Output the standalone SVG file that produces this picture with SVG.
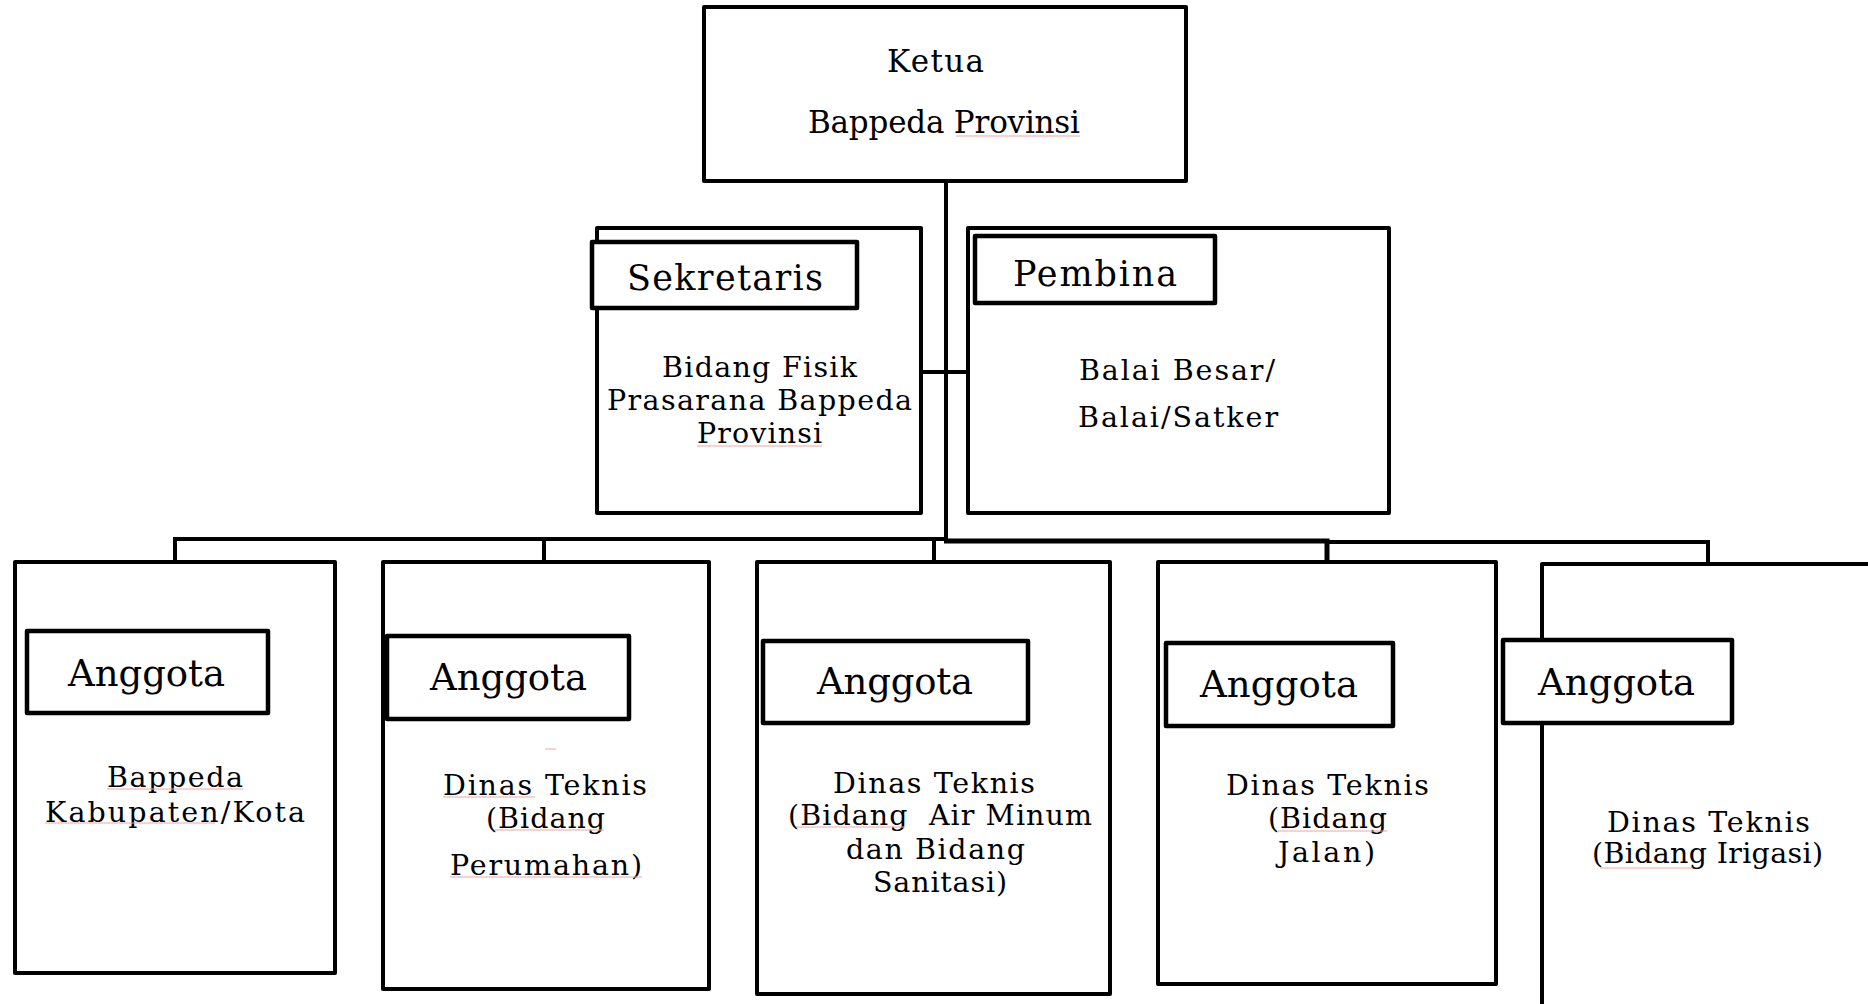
<svg xmlns="http://www.w3.org/2000/svg" width="1868" height="1004" viewBox="0 0 1868 1004">
<style>
.box{fill:#fff;stroke:#000;stroke-width:4;stroke-linejoin:round}
.lbl{fill:#fff;stroke:#000;stroke-width:4.5;stroke-linejoin:round}
.conn{fill:none;stroke:#000;stroke-width:4;stroke-linejoin:miter}
text{font-family:"DejaVu Serif","Liberation Serif",serif;fill:#000;text-anchor:start}
.t30{font-size:31px}
.t35{font-size:35px}
.t37{font-size:37px}
.t27{font-size:28.5px}
.sp{stroke:#f2a3a3;stroke-width:1.2;fill:none}
</style>
<rect width="1868" height="1004" fill="#fff"/>
<g id="connectors">
<path class="conn" d="M946 181 V541"/>
<path class="conn" d="M921 372 H968"/>
<path class="conn" d="M175 562 V539 H946"/>
<path class="conn" d="M544 539 V562"/>
<path class="conn" d="M934 541 V562"/>
<path class="conn" d="M944 541 H1327 V562" style="stroke-width:5"/>
<path class="conn" d="M1327 542 H1708 V564"/>
</g>
<g id="ketua">
<rect class="box" x="704" y="7" width="482" height="174"/>
<text class="t30" x="887" y="72" textLength="97" lengthAdjust="spacing">Ketua</text>
<text class="t30" x="808" y="133" textLength="272" lengthAdjust="spacing">Bappeda Provinsi</text>
<path class="sp" d="M956 136 H1080"/>
</g>
<g id="sekretaris">
<rect class="box" x="597" y="228" width="324" height="285"/>
<rect class="lbl" x="592" y="242" width="265" height="66"/>
<text class="t35" x="627" y="290" textLength="196" lengthAdjust="spacing">Sekretaris</text>
<text class="t27" x="662" y="377" textLength="195" lengthAdjust="spacing">Bidang Fisik</text>
<text class="t27" x="607" y="410" textLength="305" lengthAdjust="spacing">Prasarana Bappeda</text>
<text class="t27" x="697" y="443" textLength="125" lengthAdjust="spacing">Provinsi</text>
<path class="sp" d="M697 446 H822"/>
</g>
<g id="pembina">
<rect class="box" x="968" y="228" width="421" height="285"/>
<rect class="lbl" x="975" y="236" width="240" height="67"/>
<text class="t35" x="1013" y="286" textLength="164" lengthAdjust="spacing">Pembina</text>
<text class="t27" x="1079" y="380" textLength="196" lengthAdjust="spacing">Balai Besar/</text>
<text class="t27" x="1078" y="427" textLength="200" lengthAdjust="spacing">Balai/Satker</text>
</g>
<g id="anggota1">
<rect class="box" x="15" y="562" width="320" height="411"/>
<rect class="lbl" x="27" y="631" width="241" height="82"/>
<text class="t37" x="68" y="686" textLength="157" lengthAdjust="spacing">Anggota</text>
<text class="t27" x="107" y="787" textLength="136" lengthAdjust="spacing">Bappeda</text>
<text class="t27" x="45" y="822" textLength="260" lengthAdjust="spacing">Kabupaten/Kota</text>
<path class="sp" d="M107 789 H243 M45 823 H215"/>
</g>
<g id="anggota2">
<rect class="box" x="383" y="562" width="326" height="427"/>
<rect class="lbl" x="387" y="636" width="242" height="83"/>
<text class="t37" x="430" y="690" textLength="157" lengthAdjust="spacing">Anggota</text>
<text class="t27" x="443" y="795" textLength="204" lengthAdjust="spacing">Dinas Teknis</text>
<text class="t27" x="486" y="828" textLength="119" lengthAdjust="spacing">(Bidang</text>
<text class="t27" x="450" y="875" textLength="192" lengthAdjust="spacing">Perumahan)</text>
<path class="sp" d="M545 749 H556 M443 797 H535 M495 830 H604 M450 877 H642"/>
</g>
<g id="anggota3">
<rect class="box" x="757" y="562" width="353" height="432"/>
<rect class="lbl" x="763" y="641" width="265" height="82"/>
<text class="t37" x="817" y="694" textLength="156" lengthAdjust="spacing">Anggota</text>
<text class="t27" x="833" y="793" textLength="202" lengthAdjust="spacing">Dinas Teknis</text>
<text class="t27" x="788" y="825" textLength="304" lengthAdjust="spacing" xml:space="preserve">(Bidang  Air Minum</text>
<text class="t27" x="846" y="859" textLength="179" lengthAdjust="spacing">dan Bidang</text>
<text class="t27" x="873" y="892" textLength="134" lengthAdjust="spacing">Sanitasi)</text>
<path class="sp" d="M796 827 H905"/>
</g>
<g id="anggota4">
<rect class="box" x="1158" y="562" width="338" height="422"/>
<rect class="lbl" x="1166" y="643" width="227" height="83"/>
<text class="t37" x="1200" y="697" textLength="158" lengthAdjust="spacing">Anggota</text>
<text class="t27" x="1226" y="795" textLength="203" lengthAdjust="spacing">Dinas Teknis</text>
<text class="t27" x="1268" y="828" textLength="119" lengthAdjust="spacing">(Bidang</text>
<text class="t27" x="1278" y="862" textLength="97" lengthAdjust="spacing">Jalan)</text>
<path class="sp" d="M1278 831 H1387"/>
</g>
<g id="anggota5">
<path class="box" d="M1542 1010 V564 H1875"/>
<rect class="lbl" x="1503" y="640" width="229" height="83"/>
<text class="t37" x="1538" y="695" textLength="157" lengthAdjust="spacing">Anggota</text>
<text class="t27" x="1607" y="832" textLength="203" lengthAdjust="spacing">Dinas Teknis</text>
<text class="t27" x="1592" y="863" textLength="231" lengthAdjust="spacing">(Bidang Irigasi)</text>
<path class="sp" d="M1600 868 H1693"/>
</g>
</svg>
